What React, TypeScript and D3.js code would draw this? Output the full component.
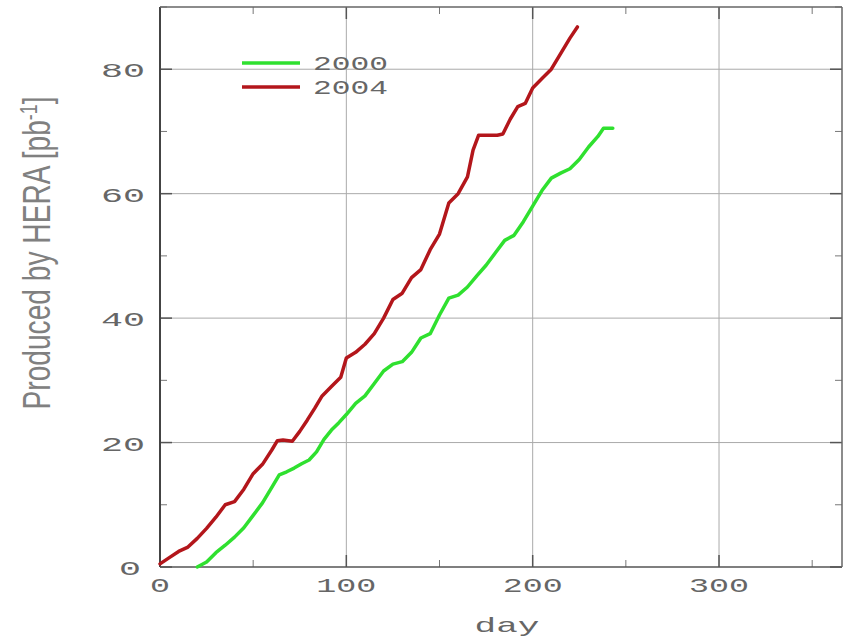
import React from "react";
import * as d3 from "d3";

// integrated luminosity delivered by HERA
const days2000 = [20, 25, 30, 35, 40, 45, 50, 55, 60, 64, 68, 72, 76, 80, 84, 88, 92, 96, 100, 105, 110, 115, 120, 125, 130, 135, 140, 145, 150, 155, 160, 165, 170, 175, 180, 185, 190, 195, 200, 205, 210, 215, 220, 225, 230, 235, 238, 243];
const lumi2000 = [0, 0.8, 2.3, 3.5, 4.8, 6.3, 8.3, 10.3, 12.8, 14.8, 15.3, 15.9, 16.6, 17.2, 18.5, 20.5, 22, 23.2, 24.5, 26.3, 27.5, 29.5, 31.5, 32.6, 33, 34.5, 36.8, 37.5, 40.5, 43.2, 43.7, 45, 46.8, 48.5, 50.5, 52.5, 53.3, 55.5, 58, 60.5, 62.5, 63.3, 64, 65.5, 67.5, 69.2, 70.5, 70.5];

const days2004 = [0, 5, 10, 15, 20, 25, 30, 35, 40, 45, 50, 55, 60, 63, 66, 71, 75, 79, 83, 87, 92, 97, 100, 105, 110, 115, 120, 125, 130, 135, 140, 145, 150, 155, 160, 165, 168, 171, 176, 181, 184, 188, 192, 196, 200, 205, 210, 215, 220, 224];
const lumi2004 = [0.5, 1.5, 2.5, 3.2, 4.6, 6.2, 8, 10, 10.5, 12.5, 15, 16.5, 18.8, 20.3, 20.4, 20.2, 21.8, 23.6, 25.5, 27.5, 29, 30.5, 33.6, 34.5, 35.8, 37.5, 40, 43, 44, 46.5, 47.8, 51, 53.5, 58.5, 60, 62.7, 67, 69.4, 69.4, 69.4, 69.6, 72, 74, 74.5, 77, 78.5, 80, 82.5, 85, 86.8];

const xTicks = [0, 100, 200, 300];
const xMinor = [50, 150, 250, 350];
const yTicks = [0, 20, 40, 60, 80];
const yMinor = [10, 30, 50, 70, 90];
const seriesNames = ["2000", "2004"];
const seriesColors = ["#2fe02f", "#b3161b"];

const W = 847, H = 641;
const left = 160, right = 842, top = 7, bottom = 567;
const monoFont = "'Liberation Mono', 'DejaVu Sans Mono', monospace";

const App = () => {
  const x = d3.scaleLinear().domain([0, 366]).range([left, right]);
  const y = d3.scaleLinear().domain([0, 90]).range([bottom, top]);

  const line = d3.line<[number, number]>()
    .x((d) => x(d[0]))
    .y((d) => y(d[1]));

  const series = [
    days2000.map((d, i) => [d, lumi2000[i]] as [number, number]),
    days2004.map((d, i) => [d, lumi2004[i]] as [number, number]),
  ];

  return (
    <svg width={W} height={H} style={{ position: "absolute", left: 0, top: 0, background: "#fff" }}>
      {/* grid */}
      {xTicks.filter((t) => t > 0).map((t) => (
        <line key={"gx" + t} x1={x(t)} x2={x(t)} y1={top} y2={bottom} stroke="#aaa" strokeWidth={1} />
      ))}
      {yTicks.filter((t) => t > 0).map((t) => (
        <line key={"gy" + t} x1={left} x2={right} y1={y(t)} y2={y(t)} stroke="#aaa" strokeWidth={1} />
      ))}

      {/* tick marks on all four sides */}
      {xTicks.map((t) => (
        <g key={"tx" + t} stroke="#555" strokeWidth={1.5}>
          <line x1={x(t)} x2={x(t)} y1={bottom} y2={bottom - 12} />
          <line x1={x(t)} x2={x(t)} y1={top} y2={top + 12} />
        </g>
      ))}
      {xMinor.map((t) => (
        <g key={"mx" + t} stroke="#777" strokeWidth={1}>
          <line x1={x(t)} x2={x(t)} y1={bottom} y2={bottom - 7} />
          <line x1={x(t)} x2={x(t)} y1={top} y2={top + 7} />
        </g>
      ))}
      {yTicks.map((t) => (
        <g key={"ty" + t} stroke="#555" strokeWidth={1.5}>
          <line x1={left} x2={left + 12} y1={y(t)} y2={y(t)} />
          <line x1={right} x2={right - 12} y1={y(t)} y2={y(t)} />
        </g>
      ))}
      {yMinor.map((t) => (
        <g key={"my" + t} stroke="#777" strokeWidth={1}>
          <line x1={left} x2={left + 7} y1={y(t)} y2={y(t)} />
          <line x1={right} x2={right - 7} y1={y(t)} y2={y(t)} />
        </g>
      ))}

      {/* frame */}
      <line x1={left} x2={left} y1={top} y2={bottom} stroke="#444" strokeWidth={2} />
      <line x1={left} x2={right} y1={bottom} y2={bottom} stroke="#555" strokeWidth={1.5} />
      <line x1={left} x2={right} y1={top} y2={top} stroke="#666" strokeWidth={1.5} />
      <line x1={right} x2={right} y1={top} y2={bottom} stroke="#666" strokeWidth={1.5} />

      {/* curves */}
      {series.map((s, i) => (
        <path key={"s" + i} d={line(s) || ""} fill="none" stroke={seriesColors[i]}
          strokeWidth={3.5} strokeLinejoin="round" strokeLinecap="round" />
      ))}

      {/* tick labels */}
      <g fill="#666" fontFamily={monoFont} fontSize={21}>
        {xTicks.map((t) => {
          const s = String(t);
          return (
            <text key={"lx" + t} x={x(t)} y={bottom + 25} textAnchor="middle"
              textLength={s.length * 20} lengthAdjust="spacingAndGlyphs">{s}</text>
          );
        })}
        {yTicks.map((t) => {
          const s = String(t);
          return (
            <text key={"ly" + t} x={t === 0 ? 141 : 145} y={y(t) + 8} textAnchor="end"
              textLength={s.length * 22} lengthAdjust="spacingAndGlyphs">{s}</text>
          );
        })}
        <text x={507} y={632} textAnchor="middle" textLength={65} lengthAdjust="spacingAndGlyphs">day</text>
      </g>

      {/* y axis title */}
      <text transform="translate(50,253) rotate(-90)" textAnchor="middle" fill="#808080"
        fontFamily="'Liberation Sans Narrow', 'Liberation Sans', sans-serif" fontSize={38}
        textLength={313} lengthAdjust="spacingAndGlyphs">
        Produced by HERA [pb<tspan dy={-13} fontSize={24}>-1</tspan><tspan dy={13}>]</tspan>
      </text>

      {/* legend */}
      {seriesNames.map((n, i) => (
        <g key={"lg" + n}>
          <line x1={242} x2={300} y1={63 + i * 24} y2={63 + i * 24} stroke={seriesColors[i]} strokeWidth={3.5} />
          <text x={313} y={63 + i * 24 + 7} fill="#666" fontFamily={monoFont} fontSize={21}
            textLength={75} lengthAdjust="spacingAndGlyphs">{n}</text>
        </g>
      ))}
    </svg>
  );
};

export default App;
